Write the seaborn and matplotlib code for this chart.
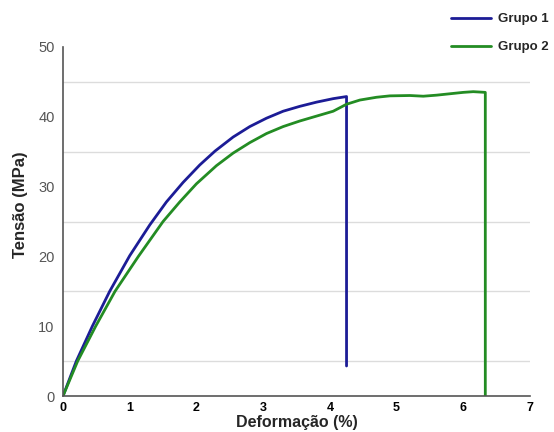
import pandas as pd
import matplotlib
matplotlib.use("Agg")
import matplotlib.pyplot as plt
import seaborn as sns
import numpy as np

# curve values (strain %, stress MPa)
grupo1_x = [0, 0.2, 0.44, 0.7, 1.0, 1.3, 1.55, 1.8, 2.05, 2.28, 2.55, 2.8, 3.05, 3.3,
            3.55, 3.8, 4.05, 4.25, 4.25]
grupo1_y = [0, 5, 10, 15, 20.1, 24.5, 27.8, 30.6, 33.1, 35.1, 37.1, 38.6, 39.8, 40.8,
            41.5, 42.1, 42.6, 42.9, 4.3]

grupo2_x = [0, 0.22, 0.49, 0.78, 1.13, 1.5, 1.75, 2.0, 2.3, 2.55, 2.8, 3.05, 3.3, 3.55,
            3.8, 4.05, 4.15, 4.25, 4.45, 4.7, 4.9, 5.2, 5.4, 5.6, 5.8, 6.0, 6.15, 6.33, 6.33]
grupo2_y = [0, 5, 10, 15, 20.0, 25, 27.8, 30.4, 33.0, 34.8, 36.3, 37.6, 38.6, 39.4,
            40.1, 40.8, 41.3, 41.8, 42.4, 42.8, 43.0, 43.05, 42.95, 43.1, 43.3, 43.5, 43.6, 43.5, 0]

groups = ['Grupo 1', 'Grupo 2']
colors = ['#1c1c96', '#238c23']
x_ticks = [0, 1, 2, 3, 4, 5, 6, 7]
y_ticks = [0, 10, 20, 30, 40, 50]

df = pd.concat([
    pd.DataFrame({'x': grupo1_x, 'y': grupo1_y, 'grupo': groups[0]}),
    pd.DataFrame({'x': grupo2_x, 'y': grupo2_y, 'grupo': groups[1]}),
], ignore_index=True)

sns.set_style('white')
plt.rcParams['font.family'] = ['Liberation Sans', 'DejaVu Sans']

fig = plt.figure(figsize=(5.54, 4.32), dpi=100)
ax = fig.add_axes([63 / 554, 1 - 396 / 432, (530 - 63) / 554, (396 - 47) / 432])

sns.lineplot(data=df, x='x', y='y', hue='grupo', palette=colors, sort=False,
             estimator=None, linewidth=2, solid_joinstyle='round', ax=ax)

ax.set_xlim(0, 7)
ax.set_ylim(0, 50)
ax.set_xticks(x_ticks)
ax.set_yticks(y_ticks)
ax.set_yticks(np.arange(5, 50, 10), minor=True)
ax.grid(False)
ax.grid(which='minor', axis='y', color='#dcdcdc', linewidth=1)
ax.tick_params(which='both', length=0)
ax.tick_params(axis='y', labelsize=10.5, labelcolor='#555555', pad=6)
ax.tick_params(axis='x', labelsize=9, labelcolor='black', pad=4)
for lbl in ax.get_xticklabels():
    lbl.set_fontweight('bold')

for side in ['top', 'right']:
    ax.spines[side].set_visible(False)
for side in ['left', 'bottom']:
    ax.spines[side].set_color('#555555')
    ax.spines[side].set_linewidth(1.2)

ax.set_xlabel('Deformação (%)', fontsize=11.5, fontweight='bold', labelpad=1)
ax.set_ylabel('Tensão (MPa)', fontsize=12, fontweight='bold')
ax.yaxis.set_label_coords(-0.075, 0.547)

ax.legend(loc='upper left', bbox_to_anchor=(451 / 554, 1 - 13 / 432),
          bbox_transform=fig.transFigure, frameon=False, borderpad=0,
          borderaxespad=0, handlelength=3.0, handletextpad=0.6,
          labelspacing=1.2, prop={'size': 9.5, 'weight': 'bold'})

fig.savefig('out.png', dpi=100)
plt.close(fig)
